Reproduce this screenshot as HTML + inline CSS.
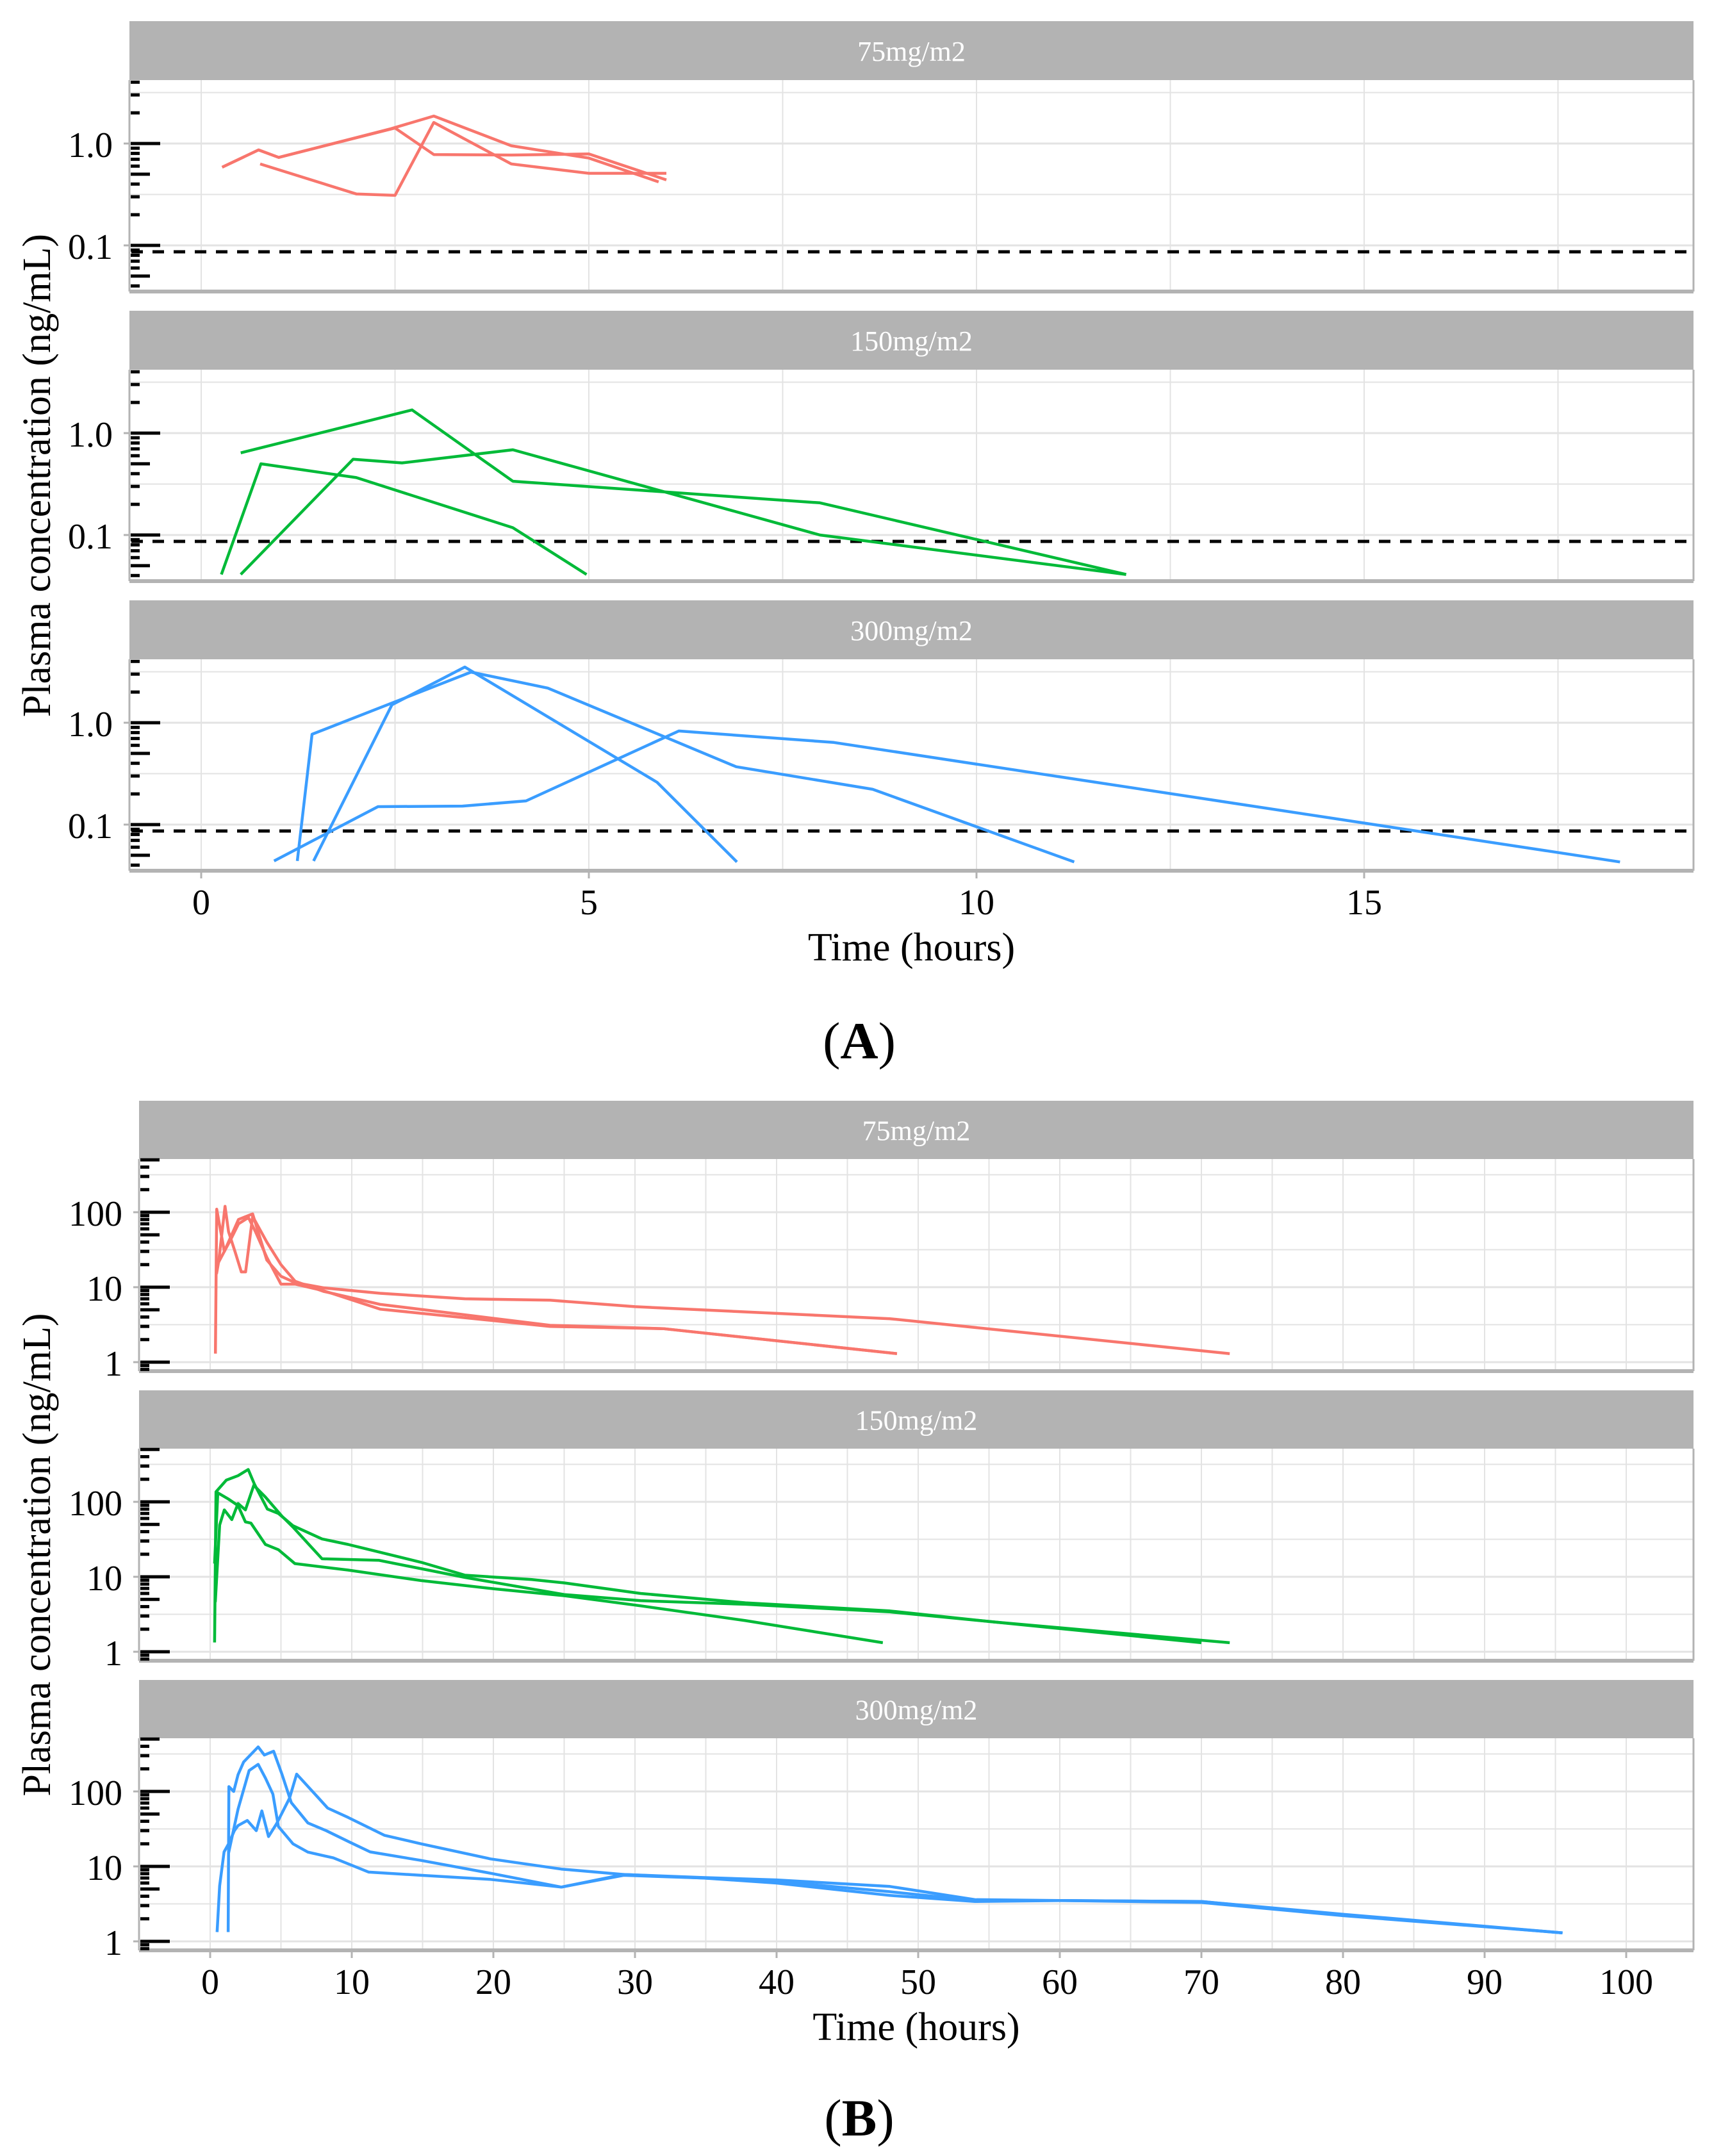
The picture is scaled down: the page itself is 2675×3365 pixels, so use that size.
<!DOCTYPE html>
<html><head><meta charset="utf-8">
<style>
html,body{margin:0;padding:0;background:#fff;}
svg{display:block;font-family:"Liberation Serif",serif;}
</style></head>
<body>
<svg id="chart" width="2675" height="3365" viewBox="0 0 2675 3365" xmlns="http://www.w3.org/2000/svg">
<rect width="2675" height="3365" fill="#fff"/>
<g id="root"></g>
</svg>
<script>
// ---------- Data: Figure A (0-18 h) ----------
const aDoseLabels = ["75mg/m2","150mg/m2","300mg/m2"];
const aXTicks = [0,5,10,15];
const aYTickValues = [0.1,1.0];
const aYTickLabels = ["0.1","1.0"];
const loq = 0.0865;
// 75 mg/m2
const a75_s1_t = [0.27,0.74,1.0,2.5,3.0,4.0,5.0,6.0];
const a75_s1_v = [0.585,0.865,0.73,1.42,0.78,0.77,0.79,0.44];
const a75_s2_t = [0.27,0.74,1.0,2.45,3.0,4.0,5.0,5.9];
const a75_s2_v = [0.585,0.865,0.73,1.40,1.86,0.95,0.72,0.42];
const a75_s3_t = [0.76,2.0,2.5,3.0,4.0,5.0,6.0];
const a75_s3_v = [0.63,0.32,0.31,1.61,0.63,0.51,0.51];
// 150 mg/m2
const a150_s1_t = [0.51,2.72,4.02,7.98,11.93];
const a150_s1_v = [0.64,1.69,0.337,0.207,0.041];
const a150_s2_t = [0.26,0.77,2.0,4.02,4.97];
const a150_s2_v = [0.041,0.50,0.366,0.118,0.041];
const a150_s3_t = [0.51,1.96,2.59,4.02,7.98,11.93];
const a150_s3_v = [0.041,0.555,0.51,0.686,0.1,0.041];
// 300 mg/m2
const a300_s1_t = [0.94,2.28,3.37,4.19,6.16,8.16,18.3];
const a300_s1_v = [0.044,0.15,0.152,0.171,0.83,0.64,0.043];
const a300_s2_t = [1.24,1.43,3.48,4.47,6.9,8.66,11.26];
const a300_s2_v = [0.044,0.77,3.14,2.19,0.37,0.222,0.043];
const a300_s3_t = [1.45,2.46,3.40,5.88,6.91];
const a300_s3_v = [0.044,1.50,3.52,0.26,0.043];

// ---------- Data: Figure B (0-100 h) ----------
const bDoseLabels = ["75mg/m2","150mg/m2","300mg/m2"];
const bXTicks = [0,10,20,30,40,50,60,70,80,90,100];
const bYTickValues = [1,10,100];
const bYTickLabels = ["1","10","100"];
// 75 mg/m2
const b75_s1_t = [0.37,0.46,1.0,2.0,3.0,4.0,5.0,6.0,8.0,12.0,18.0,24.0,30.0,48.0,72.0];
const b75_s1_v = [1.3,110,30,80,95,23,14,11.5,9.8,8.3,7.0,6.7,5.5,3.8,1.3];
const b75_s2_t = [0.45,0.6,1.05,1.3,1.75,2.2,2.5,3.0,4.0,5.0,6.0,8.0,12.0,24.0,32.0,48.5];
const b75_s2_v = [15,22,120,55,30,16,16,88,40,20,12,8.8,5.9,3.1,2.8,1.3];
const b75_s3_t = [0.5,1.0,1.5,2.0,2.7,3.2,4.0,5.0,6.0,8.0,12.0,24.0,32.0,48.5];
const b75_s3_v = [20,30,45,70,85,55,25,11,11,9,5.1,3.0,2.8,1.3];
// 150 mg/m2
const b150_s1_t = [0.31,0.41,1.14,1.97,2.69,3.13,4.04,4.82,5.85,7.9,9.74,14.9,18.0,22.7,25,30.4,37.8,48,55.3,72];
const b150_s1_v = [1.33,136,195,223,270,171,80,70,48,32,27,15.6,10.5,9.2,8.3,6.0,4.5,3.5,2.5,1.32];
const b150_s2_t = [0.31,0.54,1.32,1.97,2.49,2.88,3.9,4.82,5.98,9.74,14.9,20.1,25,30.4,37.8,47.5];
const b150_s2_v = [15,132,108,89,54,52,27,23,15,12.3,8.9,6.9,5.6,4.1,2.6,1.32];
const b150_s3_t = [0.36,0.67,1.0,1.53,1.97,2.49,3.08,3.9,5.08,5.85,7.9,11.9,18.0,25,30.4,37.8,48,55.3,70];
const b150_s3_v = [4.6,49,78,58,95,78,166,116,64,46,17.4,16.6,9.8,5.8,4.8,4.3,3.4,2.5,1.32];
// 300 mg/m2
const b300_s1_t = [0.49,0.67,0.98,1.3,1.71,1.97,2.62,3.26,3.65,4.12,4.69,5.6,6.11,7.67,8.3,9.74,12.3,14.9,19.8,24.8,29.2,34.8,40,48,54,60,70,80,95.5];
const b300_s1_v = [1.33,5.5,15.6,20,30,35,41,30,55,25,37,81,170,81,60,45,26,20,12.6,9.2,7.8,7.1,6.6,5.4,3.6,3.5,3.4,2.3,1.3];
const b300_s2_t = [1.27,1.32,1.66,1.97,2.36,3.39,3.83,4.48,5.08,5.73,6.9,8.19,9.87,11.3,14.9,19.8,24.8,29.2,34.8,40,48,54,60,70,80,95.5];
const b300_s2_v = [1.33,116,100,167,247,393,306,344,167,71,38,30,21,15.6,12,8.1,5.3,7.6,7.0,6.3,4.6,3.5,3.5,3.4,2.25,1.3];
const b300_s3_t = [1.3,1.97,2.75,3.39,3.91,4.43,4.82,5.85,6.9,8.7,11.2,14.9,19.8,24.8,29.2,34.8,40,48,54,60,70,80,95.5];
const b300_s3_v = [15,58,190,230,150,92,34,20,15.5,13,8.4,7.6,6.7,5.3,7.8,7.0,6.0,4.1,3.4,3.5,3.3,2.2,1.3];

const RED="#F8766D", GREEN="#00BA38", BLUE="#3A9DFF";
const NS="http://www.w3.org/2000/svg";
const root=document.getElementById('root');
function mk(tag,attrs,parent){const e=document.createElementNS(NS,tag);for(const k in attrs)e.setAttribute(k,attrs[k]);(parent||root).appendChild(e);return e;}

// Figure geometry
function drawFigure(F){
  const xs=v=>F.x0+v*F.pxPerX;
  for(let p=0;p<3;p++){
    const off=p*452;
    const ptop=F.stripBottom+off, pbot=F.panelBottom+off;
    const ys=v=>F.yRef+off-F.decade*(Math.log10(v)-F.refLog);
    const g=mk('g',{});
    
    
    // strip
    const st=mk('rect',{x:F.left,y:F.stripTop+off,width:F.right-F.left,height:F.stripBottom-F.stripTop,fill:'#b3b3b3'},g);
    
    
    const stt=mk('text',{x:(F.left+F.right)/2,y:(F.stripTop+F.stripBottom)/2+off+16,'text-anchor':'middle','font-size':44,fill:'#fff'},g);
    stt.textContent=F.doses[p];
    
    
    // gridlines horizontal
    const lo=Math.log10(F.yMin), hi=Math.log10(F.yMax);
    for(let k=Math.floor(lo);k<=Math.ceil(hi);k++){
      [[k,3],[k+0.5,2]].forEach(([lv,w])=>{
        if(lv<lo||lv>hi)return;
        const y=ys(Math.pow(10,lv));
        const l=mk('line',{x1:F.left,x2:F.right,y1:y,y2:y,stroke:'#e3e3e3','stroke-width':w},g);
        
        
      });
    }
    // vertical gridlines
    for(let v=F.xGridStart;xs(v)<F.right;v+=F.xStep/2){
      const x=xs(v);
      if(x<=F.left)continue;
      const l=mk('line',{x1:x,x2:x,y1:ptop,y2:pbot,stroke:'#e3e3e3','stroke-width':2},g);
      
      
    }
    // LOQ
    if(F.loq){
      const y=ys(F.loq);
      const d=mk('line',{x1:F.left+3,x2:F.right,y1:y,y2:y,stroke:'#000','stroke-width':5,'stroke-dasharray':'18 15'},g);
      
      
    }
    // series
    F.series[p].forEach((s,i)=>{
      const pts=s[0].map((t,j)=>xs(t).toFixed(1)+','+ys(s[1][j]).toFixed(1)).join(' ');
      const pl=mk('polyline',{points:pts,fill:'none',stroke:F.colors[p],'stroke-width':4.5,'stroke-linejoin':'round'},g);
      
      
    });
    // border
    mk('line',{x1:F.left,x2:F.left,y1:ptop,y2:pbot,stroke:'#b3b3b3','stroke-width':3},g);
    mk('line',{x1:F.right,x2:F.right,y1:ptop,y2:pbot,stroke:'#b3b3b3','stroke-width':3},g);
    mk('line',{x1:F.left,x2:F.right,y1:pbot,y2:pbot,stroke:'#b3b3b3','stroke-width':6},g);
    // log ticks
    for(let k=Math.floor(lo)-1;k<=Math.ceil(hi);k++){
      for(let m=1;m<=9;m++){
        const v=m*Math.pow(10,k);
        const lv=Math.log10(v);
        if(lv<lo||lv>hi)continue;
        const y=ys(v);
        const len=m===1?46:(m===5?30:14);
        const t=mk('line',{x1:F.left+2,x2:F.left+2+len,y1:y,y2:y,stroke:'#000','stroke-width':5},g);
        
        
      }
    }
    // y tick labels
    F.yTickValues.forEach((v,i)=>{
      const y=ys(v);
      mk('line',{x1:F.left-9,x2:F.left,y1:y,y2:y,stroke:'#b3b3b3','stroke-width':3},g);
      const tl=mk('text',{x:F.left-26,y:y+21,'text-anchor':'end','font-size':56,fill:'#000'},g);
      tl.textContent=F.yTickLabels[i];
      
      
    });
  }
  // x ticks
  const bottom=F.panelBottom+904;
  F.xTicks.forEach(v=>{
    const x=xs(v);
    mk('line',{x1:x,x2:x,y1:bottom,y2:bottom+12,stroke:'#b3b3b3','stroke-width':3});
    const tl=mk('text',{x:x,y:bottom+F.xLabelDy,'text-anchor':'middle','font-size':56,fill:'#000'});
    tl.textContent=String(v);
    
    
  });
  const xt=mk('text',{x:(F.left+F.right)/2,y:bottom+F.titleDy,'text-anchor':'middle','font-size':62,fill:'#000'});
  xt.textContent='Time (hours)';
  
  
  const cy=(F.stripBottom+bottom)/2;
  const yt=mk('text',{x:0,y:0,transform:'translate(78,'+cy+') rotate(-90)','text-anchor':'middle','font-size':62,fill:'#000'});
  yt.textContent='Plasma concentration (ng/mL)';
  
  
  const pl=mk('text',{x:1341,y:F.tagY,'text-anchor':'middle','font-size':82,fill:'#000'});
  pl.innerHTML='(<tspan font-weight="bold">'+F.tag+'</tspan>)';
  
  
}

drawFigure({id:'fig-a',tag:'A',tagY:1652,left:202,right:2643,stripTop:33,stripBottom:125,panelBottom:455,
  x0:314,pxPerX:121,xStep:5,xGridStart:0,xTicks:aXTicks,
  yRef:224,refLog:0,decade:159,yMin:0.0352,yMax:4.18,
  yTickValues:aYTickValues,yTickLabels:aYTickLabels,loq:loq,doses:aDoseLabels,
  colors:[RED,GREEN,BLUE],xLabelDy:68,titleDy:140,
  series:[[[a75_s1_t,a75_s1_v],[a75_s2_t,a75_s2_v],[a75_s3_t,a75_s3_v]],
          [[a150_s1_t,a150_s1_v],[a150_s2_t,a150_s2_v],[a150_s3_t,a150_s3_v]],
          [[a300_s1_t,a300_s1_v],[a300_s2_t,a300_s2_v],[a300_s3_t,a300_s3_v]]]});

drawFigure({id:'fig-b',tag:'B',tagY:3333,left:217,right:2643,stripTop:1718,stripBottom:1809,panelBottom:2140,
  x0:328,pxPerX:22.1,xStep:10,xGridStart:0,xTicks:bXTicks,
  yRef:2009,refLog:1,decade:117,yMin:0.76,yMax:512,
  yTickValues:bYTickValues,yTickLabels:bYTickLabels,loq:null,doses:bDoseLabels,
  colors:[RED,GREEN,BLUE],xLabelDy:68,titleDy:140,
  series:[[[b75_s1_t,b75_s1_v],[b75_s2_t,b75_s2_v],[b75_s3_t,b75_s3_v]],
          [[b150_s1_t,b150_s1_v],[b150_s2_t,b150_s2_v],[b150_s3_t,b150_s3_v]],
          [[b300_s1_t,b300_s1_v],[b300_s2_t,b300_s2_v],[b300_s3_t,b300_s3_v]]]});
</script>
</body></html>
